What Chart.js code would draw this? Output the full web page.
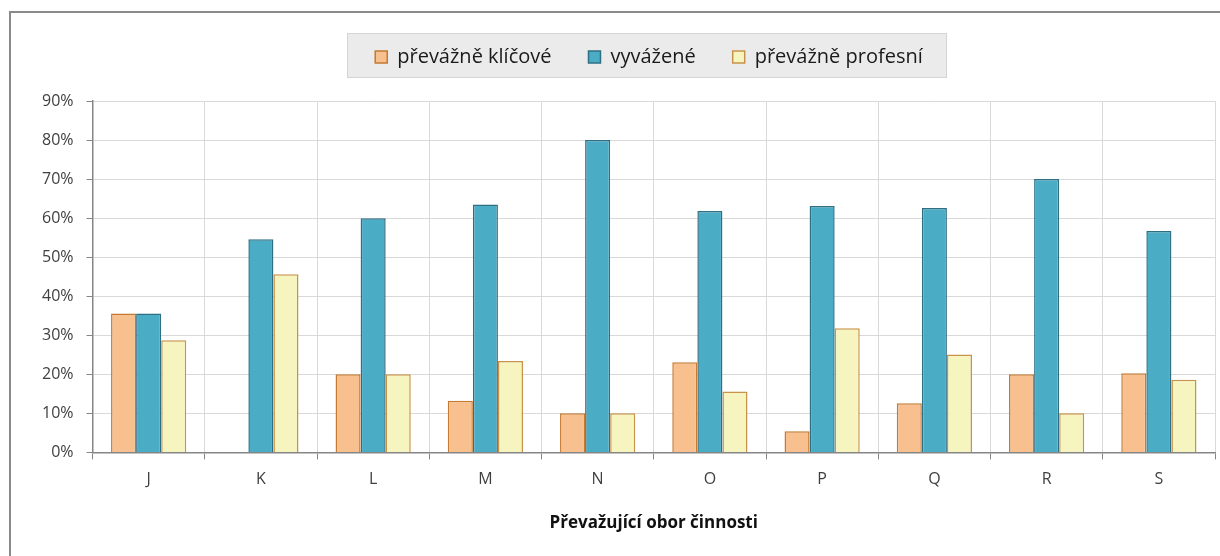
<!DOCTYPE html>
<html>
<head>
<meta charset="utf-8">
<script src="https://cdn.jsdelivr.net/npm/chart.js@4"></script>
<style>
  html, body { margin: 0; padding: 0; background: #fff; }
  #wrap { position: relative; width: 1220px; height: 556px; overflow: hidden; }
  #frame {
    position: absolute; left: 9px; top: 11px; width: 1300px; height: 600px;
    border-left: 2px solid #8a8a8a; border-top: 2px solid #8a8a8a;
  }
  canvas { position: absolute; left: 0; top: 0; }
</style>
</head>
<body>
<div id="wrap">
  <div id="frame"></div>
  <canvas id="chart" width="1220" height="556"></canvas>
</div>
<script>
// data (percent)
const categories = ["J", "K", "L", "M", "N", "O", "P", "Q", "R", "S"];
const seriesNames = ["převážně klíčové", "vyvážené", "převážně profesní"];
const klicove = [35.6, 0, 20, 13.2, 10, 23.1, 5.4, 12.6, 20, 20.3];
const vyvazene = [35.6, 54.6, 60, 63.5, 80, 61.8, 63.1, 62.6, 70, 56.7];
const profesni = [28.7, 45.6, 20, 23.4, 10, 15.6, 31.8, 25.1, 10, 18.6];
const yTicks = [0, 10, 20, 30, 40, 50, 60, 70, 80, 90];

const FONT = "'Open Sans', 'Noto Sans', sans-serif";
const LEGEND_PAD = 37;

// grey box behind the legend, and nudge legend to match the original
const legendBox = {
  id: "legendBox",
  afterLayout(chart) {
    const lg = chart.legend;
    lg.left += 27;
    lg.right += 27;
    lg.top -= 24;
    lg.bottom -= 24;
  },
  beforeDraw(chart) {
    const lg = chart.legend;
    if (!lg || !lg.lineWidths) return;
    const ctx = chart.ctx;
    const w = lg.lineWidths[0];
    const cx = (lg.left + lg.right) / 2;
    const rowStart = cx - w / 2 + LEGEND_PAD / 2;
    const rowEnd = cx + w / 2 - LEGEND_PAD / 2;
    const x0 = Math.round(rowStart - 28) + 0.5;
    const x1 = Math.round(rowEnd + 23) + 0.5;
    const y0 = 33.5, y1 = 77.5;
    ctx.save();
    ctx.fillStyle = "#ebebeb";
    ctx.strokeStyle = "#d4d4d4";
    ctx.lineWidth = 1;
    ctx.fillRect(x0, y0, x1 - x0, y1 - y0);
    ctx.strokeRect(x0, y0, x1 - x0, y1 - y0);
    ctx.restore();
  }
};

const ctx = document.getElementById("chart").getContext("2d");
new Chart(ctx, {
  type: "bar",
  data: {
    labels: categories,
    datasets: [
      {
        label: seriesNames[0],
        data: klicove,
        backgroundColor: "#f9c08f",
        borderColor: "#c47a30",
        borderWidth: 1.5
      },
      {
        label: seriesNames[1],
        data: vyvazene,
        backgroundColor: "#4bacc6",
        borderColor: "#2f6f84",
        borderWidth: 1.5
      },
      {
        label: seriesNames[2],
        data: profesni,
        backgroundColor: "#f6f5bf",
        borderColor: "#c9924a",
        borderWidth: 1.5
      }
    ]
  },
  options: {
    responsive: false,
    animation: false,
    categoryPercentage: 0.67,
    barPercentage: 1.0,
    layout: {
      padding: { top: 34, left: 29, right: 5, bottom: 19 }
    },
    plugins: {
      legend: {
        position: "top",
        labels: {
          font: { family: FONT, size: 20 },
          color: "#1a1a1a",
          boxWidth: 12,
          boxHeight: 12,
          padding: LEGEND_PAD
        }
      },
      tooltip: { enabled: false }
    },
    scales: {
      x: {
        grid: { color: "#d9d9d9", tickColor: "#868686", tickLength: 7, offset: true },
        border: { color: "#868686", width: 1.5 },
        ticks: { font: { family: FONT, size: 16 }, color: "#404040", padding: 10 },
        title: {
          display: true,
          text: "Převažující obor činnosti",
          font: { family: FONT, size: 17, weight: "bold" },
          color: "#111",
          padding: { top: 14 }
        }
      },
      y: {
        min: 0,
        max: 90,
        afterBuildTicks(axis) {
          axis.ticks = yTicks.map(v => ({ value: v }));
        },
        grid: { color: "#d9d9d9", tickColor: "#868686", tickLength: 6 },
        border: { color: "#868686", width: 1.5 },
        ticks: {
          font: { family: FONT, size: 16 },
          color: "#404040",
          padding: 13,
          callback: v => v + "%"
        }
      }
    }
  },
  plugins: [legendBox]
});
</script>
</body>
</html>
